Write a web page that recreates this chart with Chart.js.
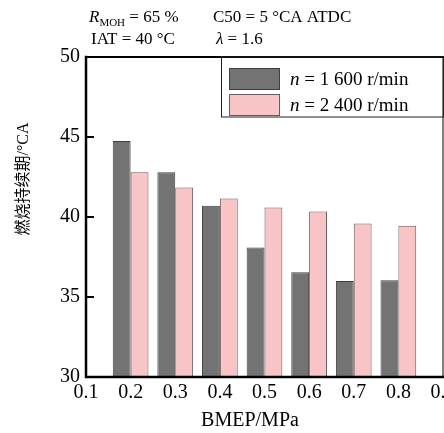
<!DOCTYPE html>
<html>
<head>
<meta charset="utf-8">
<script src="https://cdn.jsdelivr.net/npm/chart.js@4"></script>
<style>
  body { margin: 0; overflow: hidden; background: #fff; }
  /* the original figure is cropped at the right, so the canvas is a bit wider than the window */
  #chart { position: absolute; left: 0; top: 0; }
</style>
</head>
<body>
<canvas id="chart" width="460" height="433"></canvas>
<script>
// BMEP categories (0.1 and 0.9 only carry tick labels)
let bmepLabels = ['0.1', '0.2', '0.3', '0.4', '0.5', '0.6', '0.7', '0.8', '0.9'];

// combustion duration, n = 1 600 r/min
let duration1600 = [null, 44.75, 42.8, 40.7, 38.1, 36.55, 36.0, 36.05, null];

// combustion duration, n = 2 400 r/min
let duration2400 = [null, 42.8, 41.85, 41.15, 40.6, 40.35, 39.6, 39.45, null];

// y ticks
let yTicks = [30, 35, 40, 45, 50];

// legend texts: italic part + rest
let legendNames = [['n', ' = 1 600 r/min'], ['n', ' = 2 400 r/min']];

let serif = '"Liberation Serif", "DejaVu Serif", serif';

// Draws the frame, inward ticks, legend and free texts
const decorations = {
    id: 'decorations',
    afterDraw(chart) {
        const ctx = chart.ctx;
        const a = chart.chartArea;
        const y = chart.scales.y;
        ctx.save();
        ctx.strokeStyle = '#000';
        ctx.lineCap = 'square';

        // frame
        ctx.lineWidth = 1;
        ctx.beginPath();
        ctx.moveTo(a.right, a.top);
        ctx.lineTo(a.right, a.bottom);
        ctx.stroke();
        ctx.lineWidth = 2;
        ctx.beginPath();
        ctx.moveTo(a.left, a.top);
        ctx.lineTo(a.right, a.top);
        ctx.stroke();
        ctx.lineWidth = 2.5;
        ctx.beginPath();
        ctx.moveTo(a.left, a.top);
        ctx.lineTo(a.left, a.bottom);
        ctx.lineTo(a.right, a.bottom);
        ctx.stroke();

        // inward y ticks
        ctx.lineWidth = 2;
        yTicks.forEach(v => {
            const py = Math.round(y.getPixelForValue(v));
            ctx.beginPath();
            ctx.moveTo(a.left, py);
            ctx.lineTo(a.left + 7, py);
            ctx.stroke();
        });

        // legend box
        const lx = 221, ly = a.top, lr = a.right, lb = 117;
        ctx.lineWidth = 1;
        ctx.strokeStyle = '#222';
        ctx.strokeRect(lx + 0.5, ly, lr - lx, lb - ly);
        chart.data.datasets.forEach((ds, i) => {
            const top = 68 + i * 26;
            ctx.fillStyle = ds.backgroundColor;
            ctx.fillRect(229, top, 51, 22);
            ctx.strokeStyle = ds.borderColor;
            ctx.strokeRect(229.5, top + 0.5, 50, 21);
            ctx.fillStyle = '#000';
            ctx.textBaseline = 'middle';
            ctx.textAlign = 'left';
            ctx.font = 'italic 19px ' + serif;
            ctx.fillText(legendNames[i][0], 290, top + 12);
            const w = ctx.measureText(legendNames[i][0]).width;
            ctx.font = '19px ' + serif;
            ctx.fillText(legendNames[i][1], 290 + w, top + 12);
        });

        // operating conditions above the plot
        ctx.fillStyle = '#000';
        ctx.textBaseline = 'alphabetic';
        ctx.font = 'italic 17px ' + serif;
        ctx.fillText('R', 89, 21.5);
        let x = 89 + ctx.measureText('R').width;
        ctx.font = '11px ' + serif;
        ctx.fillText('MOH', x, 25.5);
        x += ctx.measureText('MOH').width;
        ctx.font = '17px ' + serif;
        ctx.fillText(' = 65 %', x, 21.5);
        ctx.fillText('C50 = 5 \u00B0CA ATDC', 213, 21.5);
        ctx.fillText('IAT = 40 \u00B0C', 91, 43.5);
        ctx.font = 'italic 17px ' + serif;
        ctx.fillText('\u03BB', 216, 43.5);
        x = 216 + ctx.measureText('\u03BB').width;
        ctx.font = '17px ' + serif;
        ctx.fillText(' = 1.6', x, 43.5);

        // axis titles
        ctx.textAlign = 'center';
        ctx.textBaseline = 'middle';
        ctx.font = '20px ' + serif;
        ctx.fillText('BMEP/MPa', 250, 421);
        ctx.translate(24, 179);
        ctx.rotate(-Math.PI / 2);
        ctx.font = '16px ' + serif + ', "Noto Sans CJK SC"';
        ctx.fillText('燃烧持续期/\u00B0CA', 0, 0);
        ctx.restore();
    }
};

let ctx = document.getElementById('chart');

let barChart = new Chart(ctx, {
    type: 'bar',
    data: {
        labels: bmepLabels,
        datasets: [
            {
                label: 'n = 1 600 r/min',
                data: duration1600,
                backgroundColor: '#737373',
                borderColor: '#3f3f3f',
                borderWidth: 1
            },
            {
                label: 'n = 2 400 r/min',
                data: duration2400,
                backgroundColor: '#F9C4C6',
                borderColor: '#6b5a5b',
                borderWidth: 1
            }
        ]
    },
    options: {
        responsive: false,
        animation: false,
        devicePixelRatio: 1,
        layout: {
            autoPadding: false,
            padding: { left: 0, top: 57, right: 17, bottom: 0 }
        },
        datasets: {
            bar: { categoryPercentage: 0.8, barPercentage: 1.0 }
        },
        plugins: {
            legend: { display: false },
            tooltip: { enabled: false }
        },
        scales: {
            x: {
                offset: false,
                grid: { display: false, drawTicks: false },
                border: { display: false },
                ticks: {
                    color: '#000',
                    padding: 4,
                    maxRotation: 0,
                    autoSkip: false,
                    font: { family: serif, size: 20 }
                },
                afterFit(scale) { scale.height = 56; }
            },
            y: {
                min: 30,
                max: 50,
                grid: { display: false, drawTicks: false },
                border: { display: false },
                ticks: {
                    stepSize: 5,
                    color: '#000',
                    padding: 6,
                    font: { family: serif, size: 20 }
                },
                afterFit(scale) { scale.width = 86; }
            }
        }
    },
    plugins: [decorations]
});
</script>
</body>
</html>
